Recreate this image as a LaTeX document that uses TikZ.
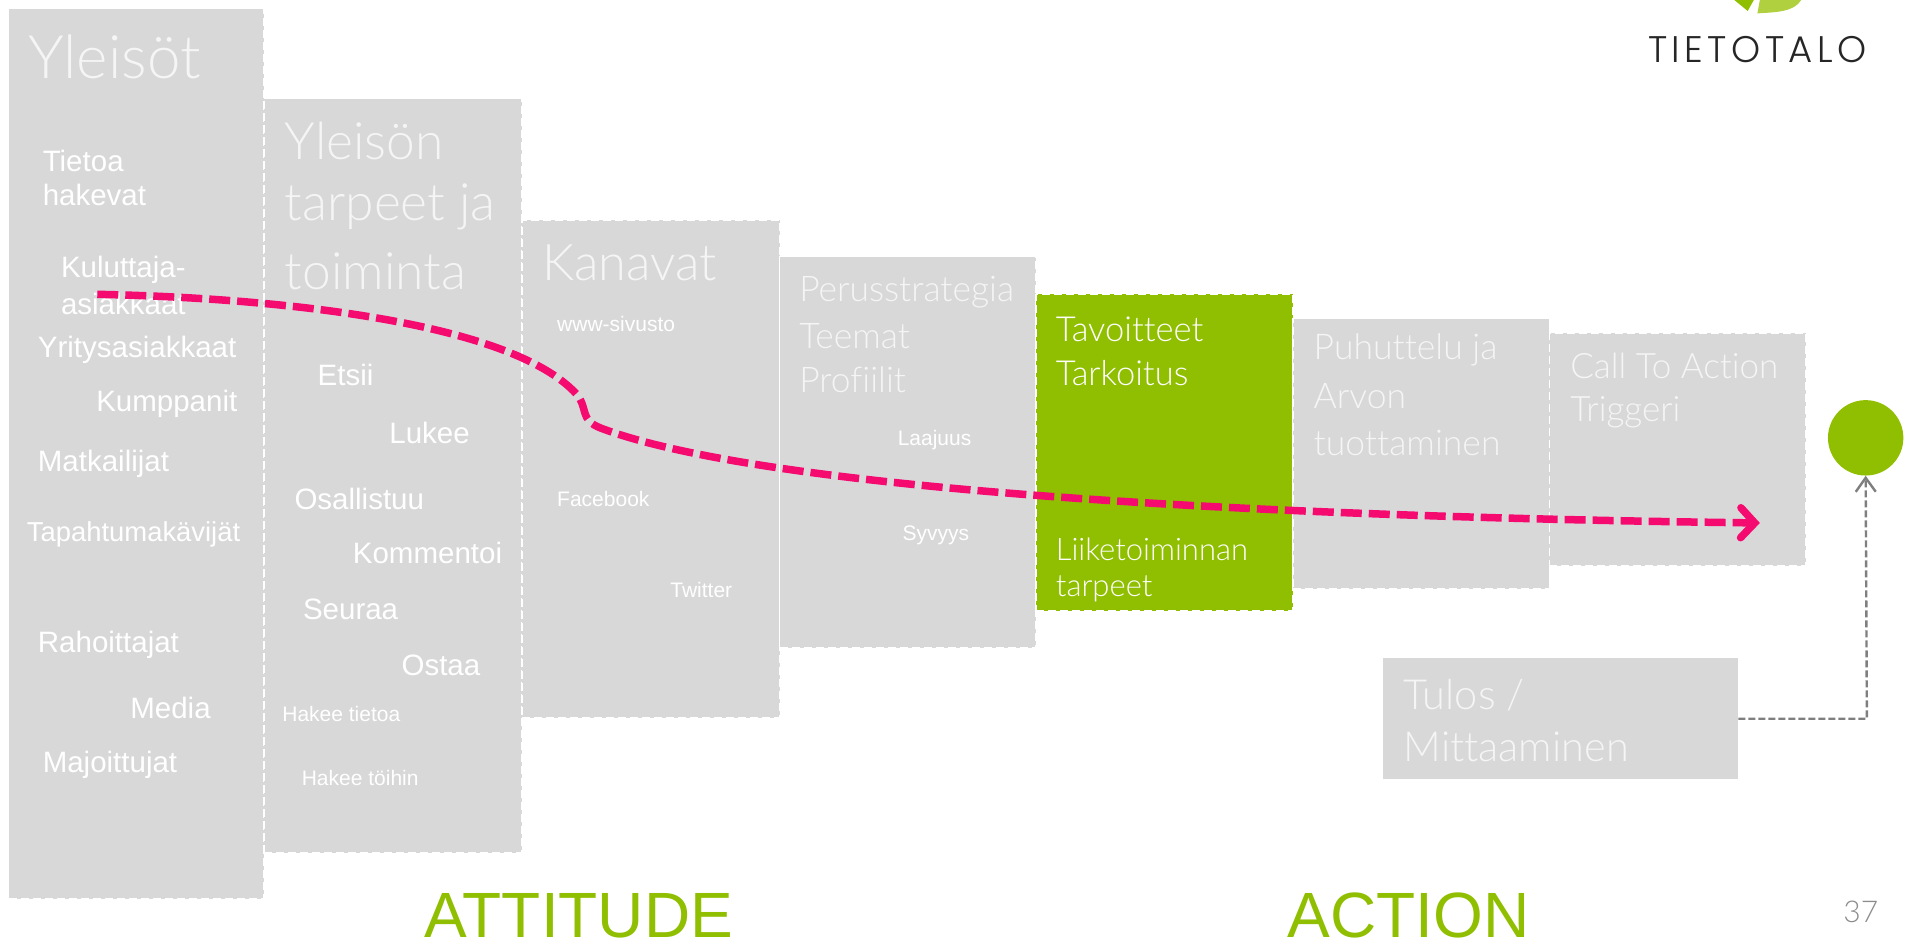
\documentclass[tikz,border=0pt]{standalone}
\usepackage{fontspec}
\setmainfont{Liberation Sans}
\newfontfamily\thinfont[Ligatures=NoCommon]{Lato Light}
\newfontfamily\logofont{Poppins Light}
\usetikzlibrary{arrows.meta,positioning}
\definecolor{boxgray}{HTML}{D8D8D8}
\definecolor{leaf}{HTML}{8FBF00}
\definecolor{leaflight}{HTML}{B0D040}
\definecolor{hot}{HTML}{F50A70}
\definecolor{linegray}{HTML}{7F7F7F}
\tikzset{
  panel/.style={draw=white,dash pattern=on 8pt off 4pt,line width=1.6pt,fill=boxgray,anchor=north west,inner sep=0pt,outer sep=0pt},
  item/.style={anchor=west,text=white,font=\fontsize{29.5}{33}\selectfont,inner sep=0pt,align=left},
  small/.style={anchor=west,text=white,font=\fontsize{21}{25}\selectfont,inner sep=0pt},
  ttl/.style={anchor=west,text=white!75!boxgray,inner sep=0pt,align=left,font=\thinfont},
  big/.style={anchor=center,text=leaf,inner sep=0pt,font=\fontsize{64}{74}\selectfont},
}
\newcommand{\panelbox}[5]{\node[panel,#5,minimum width=#3*1.2162pt,minimum height=#4*1.2162pt] (#1) at #2 {};}
\begin{document}
\begin{tikzpicture}[x=1.2162pt,y=-1.2162pt]
\useasboundingbox (0,0) rectangle (1568,778);
\fill[white] (0,0) rectangle (1568,778);
\panelbox{p1}{(7,7)}{210}{732}{}
\panelbox{p2}{(217,81)}{212}{620}{}
\panelbox{p3}{(429,181)}{212}{409}{}
\panelbox{p4}{(641,211)}{211}{322}{}
\panelbox{p5}{(852,242)}{211}{260}{fill=leaf}
\panelbox{p6}{(1063,262)}{211}{222}{}
\panelbox{p7}{(1274,274)}{211}{191}{}
\node[fill=boxgray,anchor=north west,inner sep=0pt,minimum width=292*1.2162pt,minimum height=99*1.2162pt] (p8) at (1137,541) {};
\node[circle,fill=leaf,inner sep=0pt,minimum size=62*1.2162pt] (goal) at (1534,360) {};
% titles
\node[ttl,font=\thinfont\fontsize{60}{66}\selectfont] (t1) at (23,47) {Yleisöt};
\node[ttl,font=\thinfont\fontsize{51.5}{65}\selectfont] (t2a) at (234,116) {Yleisön};
\node[ttl,font=\thinfont\fontsize{51.5}{65}\selectfont] (t2b) at (234,170) {tarpeet ja};
\node[ttl,font=\thinfont\fontsize{51.5}{65}\selectfont] (t2c) at (234,223) {toiminta};
\node[ttl,font=\thinfont\fontsize{50.5}{65}\selectfont] (t3) at (446,216) {Kanavat};
\node[ttl,font=\thinfont\fontsize{35.4}{44}\selectfont] (t4a) at (657,240) {Perusstrategia};
\node[ttl,font=\thinfont\fontsize{35.4}{44}\selectfont] (t4b) at (657,276) {Teemat};
\node[ttl,font=\thinfont\fontsize{35.4}{44}\selectfont] (t4c) at (657,312) {Profiilit};
\node[ttl,text=white,font=\thinfont\fontsize{34.5}{44}\selectfont] (t5a) at (868,271) {Tavoitteet};
\node[ttl,text=white,font=\thinfont\fontsize{34.5}{44}\selectfont] (t5b) at (868,307) {Tarkoitus};
\node[ttl,text=white,font=\thinfont\fontsize{31}{38}\selectfont] (t5c) at (868,452) {Liiketoiminnan};
\node[ttl,text=white,font=\thinfont\fontsize{31}{38}\selectfont] (t5d) at (868,484) {tarpeet};
\node[ttl,font=\thinfont\fontsize{35.5}{44}\selectfont] (t6a) at (1080,288) {Puhuttelu ja};
\node[ttl,font=\thinfont\fontsize{35.5}{44}\selectfont] (t6b) at (1080,326) {Arvon};
\node[ttl,font=\thinfont\fontsize{35.5}{44}\selectfont] (t6c) at (1080,364) {tuottaminen};
\node[ttl,font=\thinfont\fontsize{35}{44}\selectfont] (t7a) at (1291,301) {Call To Action};
\node[ttl,font=\thinfont\fontsize{35}{44}\selectfont] (t7b) at (1291,339) {Triggeri};
\node[ttl,font=\thinfont\fontsize{41.5}{52}\selectfont] (t8a) at (1154,572) {Tulos /};
\node[ttl,font=\thinfont\fontsize{41.5}{52}\selectfont] (t8b) at (1154,614) {Mittaaminen};
% column 1
\node[item] (a1) at (35,132) {Tietoa};
\node[item] (a2) at (35,160) {hakevat};
\node[item] (a3) at (50,222) {Kuluttaja-};
\node[item] (a4) at (50,250) {asiakkaat};
\node[item] (a5) at (31,288) {Yritysasiakkaat};
\node[item] (a6) at (79,332) {Kumppanit};
\node[item] (a7) at (31,381) {Matkailijat};
\node[item,font=\fontsize{27.4}{30}\selectfont] (a8) at (22,439) {Tapahtumakävijät};
\node[item] (a9) at (31,530) {Rahoittajat};
\node[item] (a10) at (107,582) {Media};
\node[item] (a11) at (35,629) {Majoittujat};
% column 2
\node[item] (b1) at (261,308) {Etsii};
\node[item] (b2) at (320,356) {Lukee};
\node[item] (b3) at (242,410) {Osallistuu};
\node[item] (b4) at (290,455) {Kommentoi};
\node[item] (b5) at (249,501) {Seuraa};
\node[item] (b6) at (330,547) {Ostaa};
\node[small] (b7) at (232,587) {Hakee tietoa};
\node[small] (b8) at (248,640) {Hakee töihin};
% column 3, 4
\node[small] (c1) at (458,266) {www-sivusto};
\node[small] (c2) at (458,410) {Facebook};
\node[small] (c3) at (551,485) {Twitter};
\node[small] (d1) at (738,362) {Laajuus};
\node[small] (d2) at (742,440) {Syvyys};
% big
\node[big] (attitude) at (476,753) {ATTITUDE};
\node[big] (action) at (1158,753) {ACTION};
\node[anchor=center,inner sep=0pt,text=black!45,font=\thinfont\fontsize{30}{34}\selectfont] (num) at (1530,750) {37};
% logo
\fill[leaf] (1426,0) -- (1437,9) -- (1442,0) -- cycle;
\fill[leaflight] (1447,0) -- (1445,11) .. controls (1460,10) and (1475,10) .. (1481,0) -- cycle;
\node[anchor=center,inner sep=0pt,text=black!85,font=\logofont\fontsize{37}{44}\selectfont] (logo) at (1445,41) {\addfontfeature{LetterSpace=12}TIETOTALO};
% connectors
\coordinate (s) at (80,242);
\coordinate (e) at (1447,430);
\draw[hot,line width=7.5pt,dash pattern=on 21pt off 7pt,-{Straight Barb[length=14pt,width=30pt,line cap=round]}]
 (s) .. controls (230,245) and (420,265) .. (474,324)
 .. controls (484,336) and (476,345) .. (494,352)
 .. controls (600,392) and (900,423) .. (e);
\coordinate (corner) at (1535,591);
\draw[linegray,line width=2.4pt,dash pattern=on 7pt off 3pt,-{Straight Barb[length=14pt,width=20pt]}] (p8.east |- corner) -- (corner) -- (goal.south);
\end{tikzpicture}
\end{document}
